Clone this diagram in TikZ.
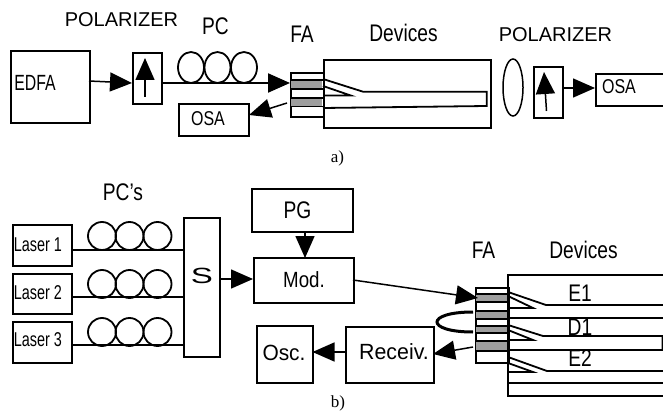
\documentclass[tikz,border=0pt]{standalone}
\usepackage{fontspec}
\setmainfont{Liberation Sans}
\newfontfamily\capfont{Liberation Serif}
\usetikzlibrary{positioning,shapes.geometric,arrows.meta}

\newcommand{\squeezed}[2][.8]{\scalebox{#1}[1]{#2}}

\tikzset{
  box/.style={draw, line width=1.8pt, anchor=north west, inner sep=0pt},
  coil/.style={draw, ellipse, line width=1.8pt, inner sep=0pt},
  guide/.style={line width=1.8pt},
  fibre/.style={line width=1.5pt},
  flow/.style={line width=1.5pt, -{Triangle[length=22pt,width=19pt]}},
  bigtext/.style={font=\fontsize{24}{24}\selectfont},
  toptext/.style={font=\fontsize{20}{21}\selectfont},
  midtext/.style={font=\fontsize{22}{22}\selectfont},
  boxtext/.style={font=\fontsize{20}{20}\selectfont},
  captext/.style={font=\capfont\fontsize{17}{17}\selectfont},
}

\begin{document}
\begin{tikzpicture}[x=1pt, y=-1pt]
  \useasboundingbox (0,0) rectangle (663,414);
  \clip (0,0) rectangle (663,414);

  % === a) boxes ===
  \node[box, minimum width=79pt, minimum height=72pt] (edfa) at (10,50) {};
  \node[box, minimum width=29pt, minimum height=51pt] (pola) at (132,52) {};
  \node[box, minimum width=70pt, minimum height=32pt] (osaa) at (178,103) {};
  \node[box, minimum width=33pt, minimum height=44pt] (faa) at (290,72) {};
  \node[box, minimum width=167pt, minimum height=68pt] (deva) at (323,59) {};
  \node[draw, ellipse, line width=1.5pt, minimum width=20pt, minimum height=57pt, inner sep=0pt] (lens) at (513,87.5) {};
  \node[box, minimum width=29pt, minimum height=51pt] (polb) at (533,66) {};
  \node[box, minimum width=80pt, minimum height=32pt] (osab) at (595,73) {};

  % === a) labels ===
  \node[toptext] (polatxt) at (121.5,20) {POLARIZER};
  \node[toptext] (polbtxt) at (555.5,35) {POLARIZER};
  \node[bigtext] (pctxt) at (215.5,26) {\squeezed{PC}};
  \node[bigtext] (faatxt) at (302,34) {\squeezed{FA}};
  \node[bigtext] (devatxt) at (403.5,33) {\squeezed{Devices}};
  \node[midtext] (edfatxt) at (35,83) {\squeezed[.72]{EDFA}};
  \node[boxtext] (osaatxt) at (208,119) {\squeezed{OSA}};
  \node[boxtext] (osabtxt) at (619,87) {\squeezed{OSA}};
  \node[captext] (capa) at (337.5,158) {a)};

  % === a) polarization controller ===
  \foreach \n/\x in {1/191,2/217.5,3/244} {
    \node[coil, minimum width=26pt, minimum height=31pt] (pca\n) at (\x,67.5) {};
  }

  % === a) coupler bands ===
  \fill[black!38] (291,80) rectangle (322,89);
  \fill[black!38] (291,98) rectangle (322,106);
  \draw[fibre] (290,80) -- (323,80) (290,89) -- (323,89) (290,98) -- (323,98) (290,106.5) -- (323,106.5);

  % === a) waveguide ===
  \draw[guide] (323,79) -- (363,91.7) -- (486.7,91.7) -- (486.7,106) -- (323,108);
  \draw[guide] (323,86) -- (351,95.6) -- (323,95.6);

  % === a) connectors ===
  \coordinate (edfaout) at (89,81);
  \coordinate (polain) at (132,83);
  \coordinate (pcout) at (161,83);
  \coordinate (fain) at (290,83);
  \coordinate (faout) at (287,103);
  \coordinate (osain) at (249,115);
  \coordinate (polatail) at (145,97);
  \coordinate (polahead) at (145,58);
  \coordinate (polbtail) at (546.5,111);
  \coordinate (polbhead) at (544,72);
  \coordinate (polbout) at (562,88);
  \coordinate (osabin) at (595,88);
  \draw[flow] (edfaout) -- (polain);
  \draw[flow, line width=2.2pt] (pcout) -- (fain);
  \draw[flow] (faout) -- (osain);
  \draw[flow] (polatail) -- (polahead);
  \draw[flow] (polbtail) -- (polbhead);
  \draw[flow] (polbout) -- (osabin);

  % === b) boxes ===
  \foreach \n/\y/\h/\t in {1/224/41/245,2/273/40/293,3/321/41/340} {
    \node[box, minimum width=59pt, minimum height=\h pt] (laser\n) at (12,\y) {};
    \node[boxtext] (lasertxt\n) at (38,\t) {\squeezed[.72]{Laser \n}};
  }
  \node[box, minimum width=36pt, minimum height=139pt] (split) at (183,217) {};
  \node[box, minimum width=101pt, minimum height=43pt] (pg) at (251,188) {};
  \node[box, minimum width=100pt, minimum height=45pt] (mod) at (253,257) {};
  \node[box, minimum width=56pt, minimum height=57pt] (osc) at (256,325) {};
  \node[box, minimum width=88pt, minimum height=56pt] (rec) at (345,326) {};
  \node[box, minimum width=33pt, minimum height=75pt] (fab) at (475,287) {};
  \node[box, minimum width=170pt, minimum height=121pt] (devb) at (507,274) {};

  % === b) labels ===
  \node[bigtext] (pcstxt) at (123,192) {\squeezed{PC's}};
  \node[font=\fontsize{22}{22}\selectfont] (splittxt) at (202,276) {\scalebox{1.5}[1]{S}};
  \node[bigtext] (pgtxt) at (297.5,210) {\squeezed{PG}};
  \node[midtext] (modtxt) at (304,280) {\squeezed[.85]{Mod.}};
  \node[midtext] (osctxt) at (284,353) {\squeezed[.95]{Osc.}};
  \node[midtext] (rectxt) at (394,352) {\squeezed[.97]{Receiv.}};
  \node[bigtext] (fabtxt) at (483.5,250) {\squeezed{FA}};
  \node[bigtext] (devbtxt) at (583.5,250) {\squeezed{Devices}};
  \node[bigtext] (eonetxt) at (580,293) {\squeezed{E1}};
  \node[bigtext] (donetxt) at (580,327) {\squeezed{D1}};
  \node[bigtext] (etwotxt) at (580,358) {\squeezed{E2}};
  \node[captext] (capb) at (338,403) {b)};

  % === b) polarization controllers ===
  \foreach \r/\y in {1/236,2/284,3/332} {
    \foreach \n/\x in {1/102,2/129.5,3/157.5} {
      \node[coil, minimum width=28pt, minimum height=28pt] (pcb\r\n) at (\x,\y) {};
    }
  }

  % === b) laser fibres ===
  \foreach \r/\y in {1/250,2/297,3/345} {
    \coordinate (las\r) at (71,\y);
    \coordinate (spl\r) at (183,\y);
    \draw[fibre] (las\r) -- (spl\r);
  }

  % === b) coupler bands ===
  \foreach \t/\b in {294/302,311/319,326/333,341/351} {
    \fill[black!38] (476,\t) rectangle (507,\b);
    \draw[fibre] (475,\t) -- (508,\t) (475,\b) -- (508,\b);
  }

  % === b) waveguides ===
  \draw[guide] (508,292) -- (546,305) -- (670,305);
  \draw[guide] (508,296) -- (533,308) -- (508,308);
  \draw[guide] (508,317.7) -- (670,317.7);
  \draw[guide] (508,325) -- (543,336) -- (662.5,336) -- (662.5,350) -- (508,350);
  \draw[guide] (508,330) -- (533,340) -- (508,340);
  \draw[guide] (508,357) -- (547,371) -- (670,371);
  \draw[guide] (508,363) -- (533,372) -- (508,372);
  \draw[guide] (508,383) -- (670,383);

  % === b) connectors ===
  \coordinate (splitout) at (219,279);
  \coordinate (modin) at (253,279);
  \coordinate (pgout) at (305,231);
  \coordinate (modtop) at (305,258);
  \coordinate (modout) at (353,280);
  \coordinate (fabin) at (478,298);
  \coordinate (fabout) at (473,347);
  \coordinate (recin) at (433,354);
  \coordinate (recout) at (345,352);
  \coordinate (oscin) at (312.5,352);
  \coordinate (loopa) at (473,312);
  \coordinate (loopb) at (473,332);
  \draw[flow] (splitout) -- (modin);
  \draw[flow] (pgout) -- (modtop);
  \draw[flow] (modout) -- (fabin);
  \draw[flow] (fabout) -- (recin);
  \draw[flow] (recout) -- (oscin);
  \draw[line width=3pt] (loopa) .. controls (425,312) and (425,332) .. (loopb);

\end{tikzpicture}
\end{document}
